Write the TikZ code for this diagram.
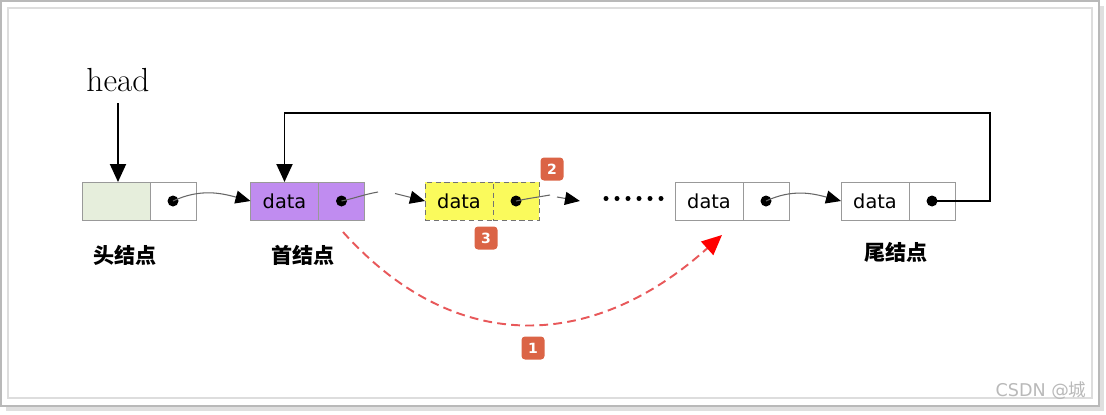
\documentclass[tikz,border=0pt]{standalone}
\usepackage{fontspec}
\setsansfont{DejaVu Sans}
\newfontfamily\cjk{Noto Sans CJK SC}
\usepackage{tikz}
\usetikzlibrary{arrows.meta,positioning,shadows}
\definecolor{cHead}{HTML}{E6EEDC}
\definecolor{cFirst}{HTML}{C08CF0}
\definecolor{cDel}{HTML}{FAFA5C}
\definecolor{cBadge}{HTML}{DB6446}
\definecolor{cArc}{HTML}{E8585A}
\definecolor{cFrame}{HTML}{DDDDDD}

\begin{document}
\begin{tikzpicture}[
  datacell/.style={
    draw=gray!80, minimum width=1.36cm, minimum height=0.76cm,
    inner sep=0pt, outer sep=0pt,
    font=\sffamily\fontsize{11}{13}\selectfont
  },
  ptrcell/.style={datacell, minimum width=0.92cm},
  delcell/.style={draw=gray!90!black, densely dashed},
  link/.style={gray!80!black, line width=0.6pt,
    -{Triangle[length=3mm,width=2.6mm,black]}},
  cut/.style={gray!80!black, line width=0.6pt},
  back/.style={line width=1.1pt, -{Triangle[length=3.6mm,width=3.2mm]}},
  arcdel/.style={cArc, line width=1.1pt, dash pattern=on 5pt off 3pt,
    -{Triangle[length=4mm,width=3.6mm,red]}},
  badge/.style={
    fill=cBadge, text=white, rounded corners=2pt, minimum size=0.46cm,
    inner sep=0pt, font=\sffamily\bfseries\fontsize{8}{9}\selectfont
  },
  cnlabel/.style={font=\cjk\bfseries\fontsize{12}{14}\selectfont},
]
\useasboundingbox (0,0) rectangle (22.12,-8.28);
% frame
\draw[gray!55, line width=0.8pt, fill=white,
  drop shadow={shadow xshift=0.1cm, shadow yshift=-0.1cm, opacity=0.25}]
  (0.02,-0.02) rectangle (21.98,-8.12);
\draw[cFrame, line width=1.2pt] (0.16,-0.16) rectangle (21.84,-7.96);
\node[text=gray!55, font=\sffamily\fontsize{10}{12}\selectfont] (mark)
  at (20.82,-7.82) {CSDN @{\cjk 城}};

% head pointer
\node[font=\fontsize{19}{22}\selectfont] (head) at (2.36,-1.6) {head};

% list nodes
\node[datacell, fill=cHead] (d0) at (2.32,-4.02) {};
\node[ptrcell, right=0pt of d0] (p0) {};
\node[datacell, fill=cFirst] (d1) at (5.69,-4.02) {data};
\node[ptrcell, fill=cFirst, right=0pt of d1] (p1) {};
\node[datacell, delcell, fill=cDel] (d2) at (9.18,-4.02) {data};
\node[ptrcell, delcell, fill=cDel, right=0pt of d2] (p2) {};
\node[datacell] (d3) at (14.18,-4.02) {data};
\node[ptrcell, right=0pt of d3] (p3) {};
\node[datacell] (d4) at (17.5,-4.02) {data};
\node[ptrcell, right=0pt of d4] (p4) {};
\foreach \p in {p0,p1,p2,p3,p4}
  \fill (\p) circle (0.11);
\foreach \i in {0,...,5}
  \fill (12.12+0.22*\i,-3.97) circle (0.05);

% names
\node[cnlabel] (n0) at (2.5,-5.1) {头结点};
\node[cnlabel] (n1) at (6.06,-5.1) {首结点};
\node[cnlabel] (n4) at (17.92,-5.04) {尾结点};

% badges
\node[badge] (b1) at (10.66,-6.96) {1};
\node[badge] (b2) at (11.04,-3.38) {2};
\node[badge] (b3) at (9.72,-4.76) {3};

% links
\draw[back, shorten <=3pt] (head.south) -- (head.south |- d0.north);
\draw[link] (p0.center) to[out=25,in=165] (d1.west);
\coordinate (cut1) at (7.56,-3.84);
\coordinate (stub1) at (7.9,-3.87);
\draw[cut] (p1.center) to[out=12,in=190] (cut1);
\draw[link] (stub1) -- (d2.west);
\coordinate (cut2) at (11.0,-3.9);
\coordinate (stub2) at (11.14,-3.94);
\coordinate (tip2) at (11.6,-4.02);
\draw[cut] (p2.center) to[out=12,in=190] (cut2);
\draw[link] (stub2) -- (tip2);
\draw[link] (p3.center) to[out=25,in=165] (d4.west);
\coordinate (turn) at (19.8,-2.26);
\draw[back] (p4.center) -| (turn) -| (d1.north);

% deletion arc
\coordinate (arcS) at (6.86,-4.64);
\coordinate (arcE) at (14.44,-4.7);
\draw[arcdel] (arcS) to[out=-48,in=-138,looseness=1.15] (arcE);
\end{tikzpicture}
\end{document}
